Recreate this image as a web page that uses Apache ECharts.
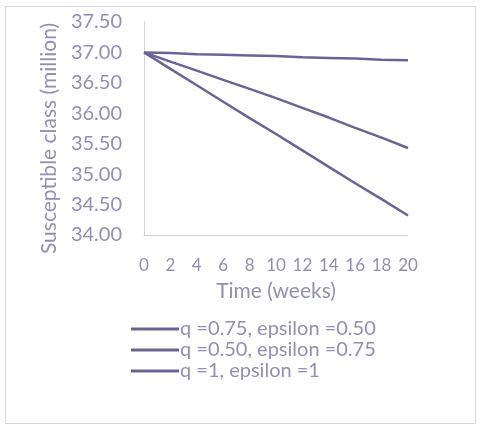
<!DOCTYPE html>
<html>
<head>
<meta charset="utf-8">
<script src="https://cdn.jsdelivr.net/npm/echarts@6/dist/echarts.min.js"></script>
<style>
html, body { margin: 0; padding: 0; background: #fff; }
#main { width: 481px; height: 430px; }
#frame { position: absolute; left: 5px; top: 6px; width: 471px; height: 418px; border: 1px solid #d8d8e0; box-sizing: border-box; }
</style>
</head>
<body>
<div id="frame"></div>
<div id="main" style="position:absolute;left:0;top:0;"></div>
<script>
var weeks = ['0', '2', '4', '6', '8', '10', '12', '14', '16', '18', '20'];
var seriesNames = ['q =0.75, epsilon =0.50', 'q =0.50, epsilon =0.75', 'q =1, epsilon =1'];
var flatLine = [37.00, 36.99, 36.97, 36.96, 36.95, 36.94, 36.92, 36.91, 36.90, 36.88, 36.87];
var midLine = [37.00, 36.85, 36.70, 36.55, 36.40, 36.25, 36.09, 35.93, 35.76, 35.60, 35.43];
var steepLine = [37.00, 36.73, 36.46, 36.19, 35.92, 35.66, 35.39, 35.12, 34.85, 34.59, 34.32];

var textColor = '#9290b0';
var lineColor = '#6a6494';
var font = 'Lato';

var myChart = echarts.init(document.getElementById('main'));

var option = {
    animation: false,
    textStyle: { fontFamily: font },
    grid: { left: 144, right: 73, top: 22, bottom: 195 },
    legend: {
        orient: 'vertical',
        left: 126,
        top: 314,
        itemGap: 1,
        itemWidth: 48,
        itemHeight: 3,
        icon: 'rect',
        textStyle: { color: textColor, fontSize: 20, fontFamily: font, padding: [0, 0, 0, -4] },
        data: seriesNames
    },
    xAxis: {
        type: 'category',
        boundaryGap: false,
        data: weeks,
        name: 'Time (weeks)',
        nameLocation: 'middle',
        nameGap: 46,
        nameTextStyle: { color: textColor, fontSize: 21, fontFamily: font },
        axisLine: { lineStyle: { color: '#c8c8d4', type: 'dotted' } },
        axisTick: { show: false },
        axisLabel: { color: textColor, fontSize: 17, fontFamily: font, margin: 22 }
    },
    yAxis: {
        type: 'value',
        min: 34,
        max: 37.5,
        interval: 0.5,
        name: 'Susceptible class (million)',
        nameLocation: 'middle',
        nameGap: 82,
        nameTextStyle: { color: textColor, fontSize: 21, fontFamily: font, padding: [0, 20, 0, 0] },
        axisLine: { show: true, lineStyle: { color: '#c8c8d4', type: 'dotted' } },
        axisTick: { show: false },
        splitLine: { show: false },
        axisLabel: {
            color: textColor, fontSize: 20, fontFamily: font, margin: 22,
            formatter: function (v) { return v.toFixed(2); }
        }
    },
    series: [
        { name: seriesNames[0], type: 'line', data: flatLine, symbol: 'none', lineStyle: { color: lineColor, width: 2.5 }, itemStyle: { color: lineColor } },
        { name: seriesNames[1], type: 'line', data: midLine, symbol: 'none', lineStyle: { color: lineColor, width: 2.5 }, itemStyle: { color: lineColor } },
        { name: seriesNames[2], type: 'line', data: steepLine, symbol: 'none', lineStyle: { color: lineColor, width: 2.5 }, itemStyle: { color: lineColor } }
    ]
};

myChart.setOption(option);
</script>
</body>
</html>
